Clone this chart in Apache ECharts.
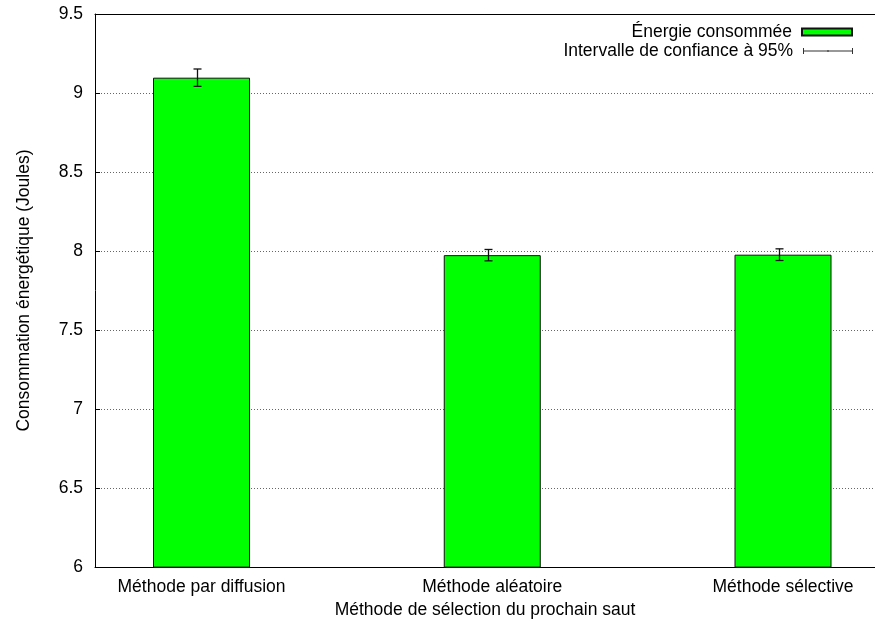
<!DOCTYPE html>
<html>
<head>
<meta charset="utf-8">
<script src="https://cdn.jsdelivr.net/npm/echarts@6/dist/echarts.min.js"></script>
<style>
  html, body { margin: 0; padding: 0; background: #fff; }
  #chart { width: 875px; height: 624px; }
</style>
</head>
<body>
<div id="chart"></div>
<script>
// Energy consumed per next-hop selection method, with 95% confidence intervals
const methods = ['Méthode par diffusion', 'Méthode aléatoire', 'Méthode sélective'];
const energy = [9.097, 7.974, 7.977];
const ci95 = [0.055, 0.036, 0.037];
const yTicks = [6, 6.5, 7, 7.5, 8, 8.5, 9, 9.5];

const FONT = 'Liberation Sans';
const FS = 17.5;

const barData = energy.map((v, i) => [i, v]);
const errData = energy.map((v, i) => [i, v - ci95[i], v + ci95[i]]);

const chart = echarts.init(document.getElementById('chart'), null, { renderer: 'canvas' });

chart.setOption({
  animation: false,
  backgroundColor: '#fff',
  textStyle: { fontFamily: FONT, color: '#000' },
  grid: { left: 95, right: 0, top: 14, bottom: 56 },
  legend: [
    {
      data: [{ name: 'Énergie consommée', icon: 'rect' }],
      right: 17, top: 18, align: 'right',
      itemWidth: 50, itemHeight: 7,
      textStyle: { fontFamily: FONT, fontSize: FS, color: '#000', padding: [0, 5, 0, 0] },
      selectedMode: false
    },
    {
      data: [{
        name: 'Intervalle de confiance à 95%',
        icon: 'path://M0,2.5H50V3.5H0Z M0,0H1V6H0Z M49,0H50V6H49Z M24.5,2H25.5V4H24.5Z',
        itemStyle: { color: '#333', borderWidth: 0 }
      }],
      right: 17, top: 37, align: 'right',
      itemWidth: 50, itemHeight: 6,
      textStyle: { fontFamily: FONT, fontSize: FS, color: '#000', padding: [0, 5, 0, 0] },
      selectedMode: false
    }
  ],
  xAxis: [
    {
      type: 'value',
      min: -0.3663, max: 2.3164,
      name: 'Méthode de sélection du prochain saut',
      nameLocation: 'middle',
      nameGap: 32,
      nameTextStyle: { fontFamily: FONT, fontSize: FS, color: '#000', verticalAlign: 'top' },
      axisLine: { show: true, onZero: false, lineStyle: { color: '#000', width: 1 } },
      axisTick: { show: false },
      splitLine: { show: false },
      axisLabel: {
        customValues: [0, 1, 2],
        formatter: v => methods[Math.round(v)],
        fontFamily: FONT, fontSize: FS, color: '#000', margin: 11
      }
    },
    {
      type: 'value',
      position: 'top',
      min: -0.3663, max: 2.3164,
      axisLine: { show: true, onZero: false, lineStyle: { color: '#000', width: 1 } },
      axisTick: { show: false },
      axisLabel: { show: false },
      splitLine: { show: false }
    }
  ],
  yAxis: {
    type: 'value',
    min: 6, max: 9.5, interval: 0.5,
    name: 'Consommation énergétique (Joules)',
    nameLocation: 'middle',
    nameGap: 62,
    nameTextStyle: { fontFamily: FONT, fontSize: FS, color: '#000' },
    axisLine: { show: true, onZero: false, lineStyle: { color: '#000', width: 1 } },
    axisTick: { show: true, inside: true, length: 5, lineStyle: { color: '#000' } },
    axisLabel: {
      customValues: yTicks,
      formatter: v => String(v),
      fontFamily: FONT, fontSize: FS, color: '#000', margin: 12
    },
    splitLine: { show: true, lineStyle: { color: '#666', type: [1, 2], width: 1 } }
  },
  series: [
    {
      name: 'Énergie consommée',
      type: 'bar',
      data: barData,
      barWidth: 97,
      clip: true,
      itemStyle: { color: '#00ff00', borderColor: '#111', borderWidth: 1 },
      z: 3
    },
    {
      name: 'Intervalle de confiance à 95%',
      type: 'custom',
      data: errData,
      encode: { x: 0, y: [1, 2] },
      itemStyle: { color: '#333' },
      z: 5,
      renderItem: function (params, api) {
        const x = api.value(0);
        const lo = api.coord([x, api.value(1)]);
        const hi = api.coord([x, api.value(2)]);
        const cx = Math.round(lo[0] - 4.5) + 0.5;
        const half = 4;
        const style = { stroke: '#111', lineWidth: 1.3, fill: null };
        return {
          type: 'group',
          children: [
            { type: 'line', shape: { x1: cx, y1: hi[1], x2: cx, y2: lo[1] }, style },
            { type: 'line', shape: { x1: cx - half, y1: hi[1], x2: cx + half, y2: hi[1] }, style },
            { type: 'line', shape: { x1: cx - half, y1: lo[1], x2: cx + half, y2: lo[1] }, style }
          ]
        };
      }
    }
  ]
});
</script>
</body>
</html>
